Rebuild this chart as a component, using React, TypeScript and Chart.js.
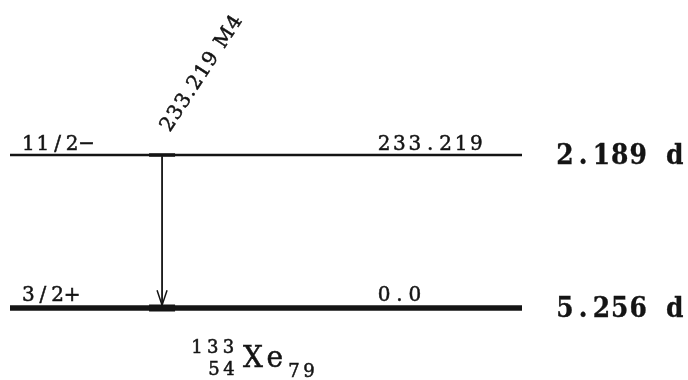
import React, { useEffect, useRef } from "react";
import { Chart, registerables } from "chart.js";

Chart.register(...registerables);

// ---- data ----
const levelEnergies = [233.219, 0.0];
const levelSpins = ["11/2−", "3/2+"];
const levelEnergyLabels = ["233.219", "0.0"];
const levelHalfLives = ["2.189 d", "5.256 d"];
const gammaFrom = [233.219];
const gammaTo = [0.0];
const gammaLabels = ["233.219 M4"];
const nuclideMass = "133";
const nuclideZ = "54";
const nuclideSymbol = "Xe";
const nuclideN = "79";

// ---- layout / style ----
const W = 688;
const H = 380;
const FONT = "'DejaVu Serif', 'Liberation Serif', serif";
const INK = "#141414";
const levelWidths = [2.5, 5.5];
const GAMMA_X = 0.297; // in level-line units (0..1)

// draws text on a monospace grid: `width` is split into equal cells
function monoText(
  ctx: CanvasRenderingContext2D,
  text: string,
  x: number,
  y: number,
  width: number,
  font: string,
  scaleY: number,
  stroke = 0
) {
  ctx.save();
  ctx.font = font;
  ctx.translate(x, y);
  ctx.scale(1, scaleY);
  ctx.textAlign = "center";
  ctx.textBaseline = "alphabetic";
  ctx.fillStyle = INK;
  ctx.strokeStyle = INK;
  ctx.lineWidth = stroke;
  const chars = Array.from(text);
  const cell = width / chars.length;
  chars.forEach((c, i) => {
    if (c === " ") return;
    const cx = cell * (i + 0.5);
    ctx.fillText(c, cx, 0);
    if (stroke > 0) ctx.strokeText(c, cx, 0);
  });
  ctx.restore();
}

// proportional text stretched by letter spacing to a given width
function fitText(
  ctx: CanvasRenderingContext2D,
  text: string,
  x: number,
  y: number,
  width: number,
  font: string,
  scaleY: number,
  stroke = 0,
  rotateDeg = 0,
  centered = false
) {
  ctx.save();
  ctx.font = font;
  (ctx as any).letterSpacing = "0px";
  const w0 = ctx.measureText(text).width;
  const n = text.length;
  const ls = n > 1 ? (width - w0) / (n - 1) : 0;
  (ctx as any).letterSpacing = ls + "px";
  ctx.translate(x, y);
  if (rotateDeg) ctx.rotate((rotateDeg * Math.PI) / 180);
  ctx.scale(1, scaleY);
  ctx.textAlign = "left";
  ctx.textBaseline = "alphabetic";
  ctx.fillStyle = INK;
  ctx.strokeStyle = INK;
  ctx.lineWidth = stroke;
  const size = parseFloat(font.replace(/^[^0-9]*/, ""));
  const x0 = centered ? -width / 2 : 0;
  const y0 = centered ? size * 0.365 : 0;
  ctx.fillText(text, x0, y0);
  if (stroke > 0) ctx.strokeText(text, x0, y0);
  ctx.restore();
}

const schemePlugin = {
  id: "scheme",
  afterDatasetsDraw(chart: any) {
    const ctx: CanvasRenderingContext2D = chart.ctx;
    const xs = chart.scales.x;
    const ys = chart.scales.y;
    const px = (u: number) => xs.getPixelForValue(u);

    // level labels
    levelEnergies.forEach((e, i) => {
      const y = ys.getPixelForValue(e);
      const half = levelWidths[i] / 2;
      const spin = levelSpins[i];
      const en = levelEnergyLabels[i];
      monoText(ctx, spin, px(0.0215), y - half - 4, spin.length * 14.6, `20px ${FONT}`, 1.05, 0.5);
      monoText(ctx, en, px(0.7155), y - half - 4, en.length * 15.4, `20px ${FONT}`, 1.05, 0.5);
      monoText(ctx, levelHalfLives[i], px(1.066), y + 9, 128, `bold 25px ${FONT}`, 1.12, 0.3);
    });

    // gammas
    gammaFrom.forEach((ef, i) => {
      const x = px(GAMMA_X);
      const yTop = ys.getPixelForValue(ef);
      const yBot = ys.getPixelForValue(gammaTo[i]);
      const iTop = levelEnergies.indexOf(ef);
      const iBot = levelEnergies.indexOf(gammaTo[i]);
      const wTop = levelWidths[iTop] ?? 2;
      const wBot = levelWidths[iBot] ?? 2;
      ctx.save();
      ctx.fillStyle = INK;
      // slightly thicker segments where the gamma meets the levels
      ctx.fillRect(x - 13, yTop - (wTop + 1) / 2, 26, wTop + 1);
      ctx.fillRect(x - 13, yBot - (wBot + 1.5) / 2, 26, wBot + 1.5);
      ctx.strokeStyle = INK;
      ctx.lineWidth = 1.8;
      ctx.beginPath();
      ctx.moveTo(x, yTop + wTop / 2);
      ctx.lineTo(x, yBot - wBot / 2);
      ctx.stroke();
      ctx.lineWidth = 1.5;
      ctx.beginPath();
      ctx.moveTo(x - 5, yBot - wBot / 2 - 15);
      ctx.lineTo(x, yBot - wBot / 2);
      ctx.lineTo(x + 5, yBot - wBot / 2 - 15);
      ctx.stroke();
      ctx.restore();
      // rotated label
      fitText(ctx, gammaLabels[i], x + 38, yTop - 82.5, 134, `20px ${FONT}`, 1.0, 0.5, -57, true);
    });

    // nuclide label
    const yG = ys.getPixelForValue(0);
    monoText(ctx, nuclideMass, px(0.35), yG + 45, 47, `18px ${FONT}`, 1.08, 0.5);
    monoText(ctx, nuclideZ, px(0.3835), yG + 67, 30, `18px ${FONT}`, 1.08, 0.5);
    fitText(ctx, nuclideSymbol, px(0.455), yG + 59, 40, `28px ${FONT}`, 1.05, 0.5);
    monoText(ctx, nuclideN, px(0.54), yG + 69, 30, `18px ${FONT}`, 1.08, 0.5);
  },
};

export default function App() {
  const ref = useRef<HTMLCanvasElement | null>(null);
  useEffect(() => {
    if (!ref.current) return;
    const chart = new Chart(ref.current, {
      type: "scatter",
      data: {
        datasets: levelEnergies.map((e, i) => ({
          label: levelSpins[i],
          data: [
            { x: 0, y: e },
            { x: 1, y: e },
          ],
          showLine: true,
          borderColor: INK,
          borderWidth: levelWidths[i],
          pointRadius: 0,
          borderCapStyle: "butt",
        })),
      },
      options: {
        animation: false,
        responsive: false,
        devicePixelRatio: 1,
        layout: { padding: 0 },
        plugins: { legend: { display: false }, tooltip: { enabled: false } },
        scales: {
          x: { type: "linear", display: false, min: -10 / 512, max: 678 / 512 },
          y: { type: "linear", display: false, min: -109.75, max: 469.5 },
        },
      } as any,
      plugins: [schemePlugin],
    });
    return () => chart.destroy();
  }, []);
  return (
    <div style={{ position: "fixed", left: 0, top: 0, width: W, height: H, background: "#fff" }}>
      <canvas ref={ref} width={W} height={H} style={{ display: "block" }} />
    </div>
  );
}
